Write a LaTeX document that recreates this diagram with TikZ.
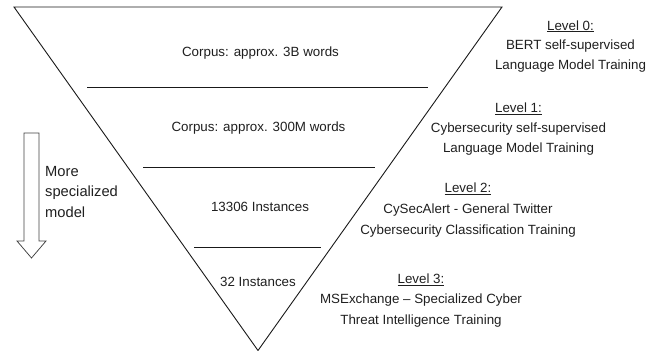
\documentclass[tikz,border=0pt]{standalone}
\usepackage{fontspec}
\setmainfont{Liberation Sans}
\begin{document}
\begin{tikzpicture}[x=1pt,y=-1pt,
  txt/.style={inner sep=0pt, anchor=base, font=\fontsize{13.35}{16}\selectfont, text=black!88},
  ltxt/.style={txt, anchor=base west, font=\fontsize{14.7}{17}\selectfont},
  edge/.style={line width=0.9pt, draw=black!90},
  lvl/.style={txt}]
\useasboundingbox (0,0) rectangle (654,351);
% funnel
\coordinate (tl) at (14,7);
\coordinate (tr) at (502,7);
\coordinate (ap) at (258,350.5);
\draw[edge, line join=miter] (tl) -- (tr) -- (ap) -- cycle;
% dividers
\coordinate (d1a) at (87,87);  \coordinate (d1b) at (428,87);
\coordinate (d2a) at (143,167); \coordinate (d2b) at (375,167);
\coordinate (d3a) at (194,247); \coordinate (d3b) at (321,247);
\draw[edge] (d1a) -- (d1b);
\draw[edge] (d2a) -- (d2b);
\draw[edge] (d3a) -- (d3b);
% inner labels
\node[txt] (c0) at (260.5,56) {Corpus: approx. 3B words};
\node[txt] (c1) at (258.5,131) {Corpus: approx. 300M words};
\node[txt] (c2) at (260,211.7) {13306 Instances};
\node[txt] (c3) at (258,286.7) {32 Instances};
% arrow
\draw[line width=0.75pt, draw=black!75, line join=miter] (24,133) -- (39,133) -- (39,241) -- (46,241) -- (31.5,258) -- (17,241) -- (24,241) -- cycle;
\node[ltxt] (m1) at (45,176.7) {More};
\node[ltxt] (m2) at (45,196.7) {specialized};
\node[ltxt] (m3) at (45,217.3) {model};
% level 0
\node[lvl] (l0a) at (570.5,30) {\underline{Level 0:}};
\node[lvl] (l0b) at (570.5,49.3) {BERT self-supervised};
\node[lvl] (l0c) at (570.5,69.5) {Language Model Training};
% level 1
\node[lvl] (l1a) at (518.5,112.7) {\underline{Level 1:}};
\node[lvl] (l1b) at (518.5,132.3) {Cybersecurity self-supervised};
\node[lvl] (l1c) at (518.5,152.7) {Language Model Training};
% level 2
\node[lvl] (l2a) at (468,192.7) {\underline{Level 2:}};
\node[lvl] (l2b) at (468,213.3) {CySecAlert - General Twitter};
\node[lvl] (l2c) at (468,234) {Cybersecurity Classification Training};
% level 3
\node[lvl] (l3a) at (421,283.3) {\underline{Level 3:}};
\node[lvl] (l3b) at (421,303.3) {MSExchange – Specialized Cyber};
\node[lvl] (l3c) at (421,324) {Threat Intelligence Training};
\end{tikzpicture}
\end{document}
